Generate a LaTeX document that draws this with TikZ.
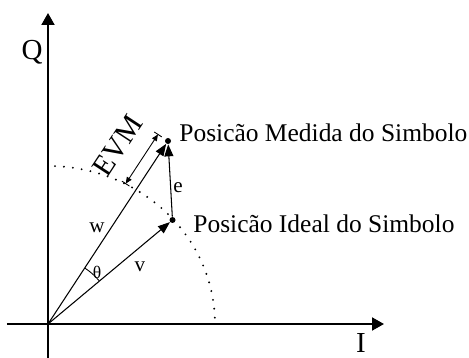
\documentclass[tikz,border=0pt]{standalone}
\usepackage{fontspec}
\setmainfont{Liberation Serif}
\usetikzlibrary{calc,arrows.meta,positioning}

\begin{document}
\begin{tikzpicture}[every node/.style={font=\fontsize{14.5}{16}\selectfont,inner sep=0pt},axis/.style={line width=1.1pt,-{Triangle[length=2.4mm,width=2.6mm]}},vec/.style={line width=.6pt,-{Triangle[length=2.4mm,width=1.8mm]}},dot/.style={circle,fill,minimum size=1.2mm},small/.style={font=\fontsize{12}{14}\selectfont}]
\useasboundingbox (-0.96,-0.68) rectangle (8.42,6.48);
\coordinate (O) at (0,0);\coordinate (iL) at (-0.82,0);\coordinate (iR) at (6.72,0);\coordinate (qB) at (0,-0.68);\coordinate (qT) at (0,6.22);
\draw[axis] (iL)--(iR);\draw[axis] (qB)--(qT);
\node[font=\fontsize{16.5}{18}\selectfont] (Q) at (-0.32,5.44) {Q};\node[font=\fontsize{16.5}{18}\selectfont] (I) at (6.26,-0.38) {I};
\draw[line width=1.2pt,line cap=round,dash pattern=on 0pt off 5.1pt] (87.6:3.34 and 3.16) arc[start angle=87.6,end angle=2.2,x radius=3.34,y radius=3.16];
\node[dot] (ideal) at (2.49,2.08) {};\node[dot] (meas) at (2.40,3.66) {};
\draw[vec] (O)--(ideal);\draw[vec] (O)--(meas);\draw[vec] (ideal)--(meas);
\draw[line width=.5pt] (40:1.34) arc (40:56.7:1.34);
% EVM dimension line
\coordinate (wlo) at ($(O)!3.2cm!(meas)$);
\coordinate (dlo) at ($(wlo)!0.24cm!90:(meas)$);\coordinate (dhi) at ($(meas)!0.24cm!-90:(O)$);
\draw[line width=.5pt,{Triangle[length=1.3mm,width=1.1mm]}-{Triangle[length=1.3mm,width=1.1mm]}] (dlo)--(dhi);
\draw[line width=.5pt] ($(dlo)!0.09cm!90:(dhi)$)--($(dlo)!0.09cm!-90:(dhi)$);\draw[line width=.5pt] ($(dhi)!0.09cm!90:(dlo)$)--($(dhi)!0.09cm!-90:(dlo)$);
\node[rotate=56.7,font=\fontsize{17}{19}\selectfont] (evm) at (1.40,3.57) {EVM};
\node[anchor=base west] (lmeas) at (2.62,3.64) {Posicão Medida do Simbolo};
\node[anchor=base west] (lideal) at (2.90,1.82) {Posicão Ideal do Simbolo};
\node[small] (lw) at (0.98,1.92) {w};\node[small] (lv) at (1.84,1.14) {v};\node[small] (le) at (2.6,2.72) {e};
\node[font=\fontsize{10}{12}\selectfont] (lth) at (0.98,1.04) {θ};
\end{tikzpicture}
\end{document}
